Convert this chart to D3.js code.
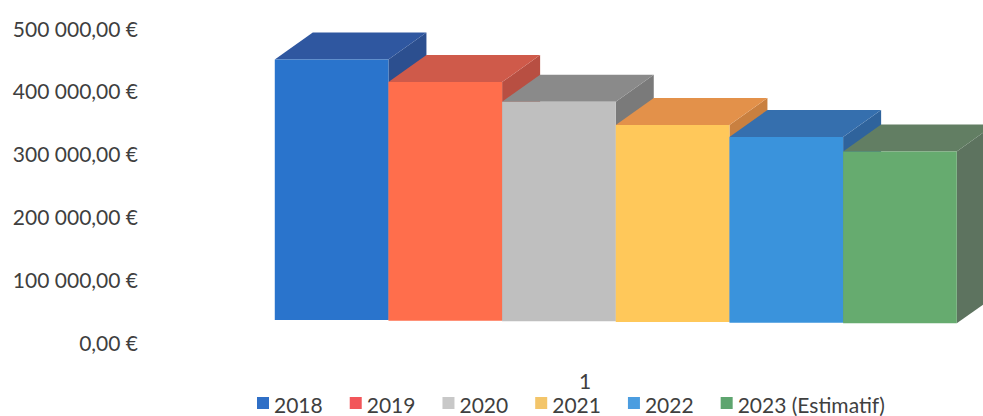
<!DOCTYPE html>
<html>
<head>
<meta charset="utf-8">
<script src="https://cdn.jsdelivr.net/npm/d3@7"></script>
<style>
  html, body { margin: 0; padding: 0; background: #ffffff; }
  svg { display: block; }
</style>
</head>
<body>
<svg id="chart" width="983" height="416"></svg>
<script>
// Yearly amounts, one 3D column per year
const years = ["2018", "2019", "2020", "2021", "2022", "2023 (Estimatif)"];
const values = [414000, 379000, 349000, 313000, 295000, 273000];
const yTicks = [0, 100000, 200000, 300000, 400000, 500000];
const categoryLabel = "1";

// Face colours per column: front, top, right side, legend swatch
const frontColors = ["#2a74cc", "#ff6e4c", "#bfbfbf", "#ffc85a", "#3a93dc", "#66ab6f"];
const topColors   = ["#2f57a0", "#cf5a4a", "#8a8a8a", "#e3914a", "#356fae", "#627e63"];
const sideColors  = ["#2c4f8f", "#b84f42", "#7a7a7a", "#c98040", "#2f639c", "#5d735f"];
const legendColors = ["#2f6fc6", "#f2565a", "#c8c8c8", "#f3c56a", "#4b9de0", "#5ea56f"];

const svg = d3.select("#chart");
const FONT = "Lato, 'Open Sans', sans-serif";
const TEXT = "#3f3f3f";

// Value scale (front plane of the floor) and category band scale
const yScale = d3.scaleLinear().domain([0, 500000]).range([344, 29.3]);
const xScale = d3.scaleBand().domain(years).range([241, 923]).paddingInner(0).paddingOuter(0);

// Oblique projection for the 3D look: depth shifts right and up;
// each column sits a little lower the further right it is
const depthDx = 38, depthDy = 27, drift = 0.0058;
const zFront = 24 / 27, zBack = zFront + 1;
function proj(x, v, z, shift) {
  return [x + z * depthDx, yScale(v) - z * depthDy + shift];
}
const poly = pts => pts.map(p => p.join(",")).join(" ");

// Y axis labels
const fmt = d3.formatLocale({
  decimal: ",", thousands: "\u00a0", grouping: [3], currency: ["", "\u00a0€"]
}).format("$,.2f");

const axis = svg.append("g")
  .attr("transform", "translate(138,0)")
  .call(d3.axisLeft(yScale).tickValues(yTicks).tickFormat(fmt).tickSize(0).tickPadding(0));
axis.select(".domain").remove();
axis.selectAll("text")
  .attr("font-family", FONT).attr("font-size", 21).attr("fill", TEXT);

// Columns, drawn left to right so each one hides its neighbour's side
const bars = svg.append("g");
years.forEach((yr, i) => {
  const x0 = xScale(yr), x1 = x0 + xScale.bandwidth(), v = values[i];
  const s = (x0 - xScale.range()[0]) * drift;
  const g = bars.append("g");
  // right side face
  g.append("polygon")
    .attr("points", poly([proj(x1, 0, zFront, s), proj(x1, 0, zBack, s), proj(x1, v, zBack, s), proj(x1, v, zFront, s)]))
    .attr("fill", sideColors[i]);
  // top face
  g.append("polygon")
    .attr("points", poly([proj(x0, v, zFront, s), proj(x0, v, zBack, s), proj(x1, v, zBack, s), proj(x1, v, zFront, s)]))
    .attr("fill", topColors[i]);
  // front face
  g.append("polygon")
    .attr("points", poly([proj(x0, 0, zFront, s), proj(x0, v, zFront, s), proj(x1, v, zFront, s), proj(x1, 0, zFront, s)]))
    .attr("fill", frontColors[i]);
});

// Category label under the columns
svg.append("text")
  .attr("x", 585).attr("y", 380)
  .attr("text-anchor", "middle").attr("dominant-baseline", "central")
  .attr("font-family", FONT).attr("font-size", 21).attr("fill", TEXT)
  .text(categoryLabel);

// Legend row
const legend = svg.append("g");
let lx = 257;
years.forEach((yr, i) => {
  legend.append("rect")
    .attr("x", lx).attr("y", 397).attr("width", 12).attr("height", 12)
    .attr("fill", legendColors[i]);
  const t = legend.append("text")
    .attr("x", lx + 17).attr("y", 404)
    .attr("dominant-baseline", "central")
    .attr("font-family", FONT).attr("font-size", 21).attr("fill", TEXT)
    .text(yr);
  lx += 17 + t.node().getComputedTextLength() + 27;
});
</script>
</body>
</html>
